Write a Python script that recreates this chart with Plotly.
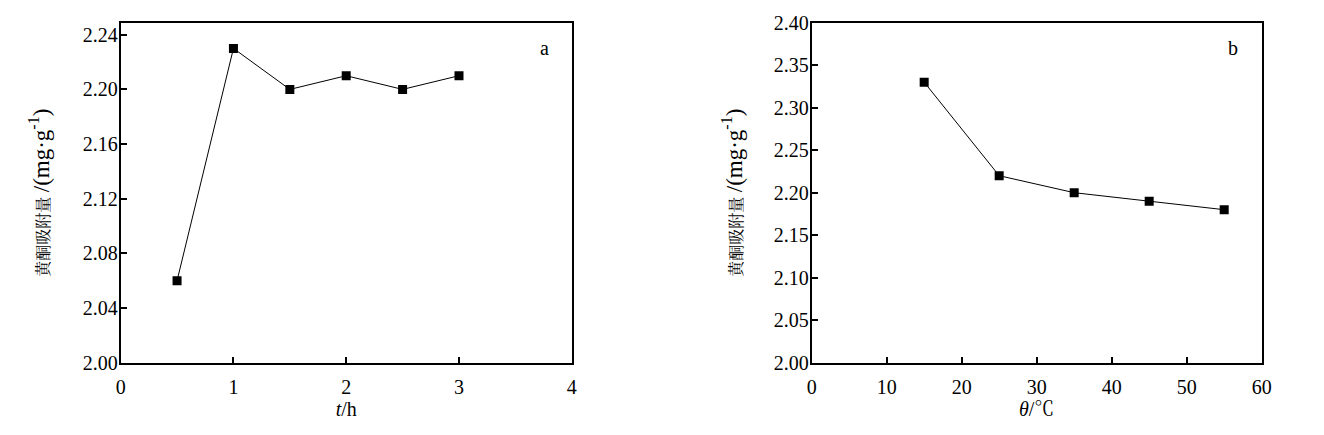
import plotly.graph_objects as go

# Panel a: adsorption time
time_h = [0.5, 1.0, 1.5, 2.0, 2.5, 3.0]
adsorb_a = [2.06, 2.23, 2.20, 2.21, 2.20, 2.21]
# Panel b: temperature
temp_c = [15, 25, 35, 45, 55]
adsorb_b = [2.33, 2.22, 2.20, 2.19, 2.18]

ya_ticks = [2.00, 2.04, 2.08, 2.12, 2.16, 2.20, 2.24]
yb_ticks = [2.00, 2.05, 2.10, 2.15, 2.20, 2.25, 2.30, 2.35, 2.40]
xa_ticks = [0, 1, 2, 3, 4]
xb_ticks = [0, 10, 20, 30, 40, 50, 60]

FONT = "'Liberation Serif', 'Noto Serif CJK SC', 'Noto Sans CJK SC', serif"
ytitle = ("<span style='font-size:16px'>黄酮吸附量</span>"
          "<span style='font-size:23px'>\u2009/(mg·g<sup>-1</sup>)</span>")

fig = go.Figure()
fig.add_trace(go.Scatter(x=time_h, y=adsorb_a, mode="lines+markers",
                         line=dict(color="black", width=1),
                         marker=dict(symbol="square", size=9, color="black"),
                         xaxis="x", yaxis="y", showlegend=False))
fig.add_trace(go.Scatter(x=temp_c, y=adsorb_b, mode="lines+markers",
                         line=dict(color="black", width=1),
                         marker=dict(symbol="square", size=9, color="black"),
                         xaxis="x2", yaxis="y2", showlegend=False))

ax_common = dict(showline=True, linecolor="black", linewidth=2, mirror=True,
                 ticks="inside", ticklen=6, tickwidth=1.5, tickcolor="black",
                 showgrid=False, zeroline=False, automargin=False,
                 tickfont=dict(family=FONT, size=20, color="black"))

ydom = [0.1846, 0.9662]

fig.update_layout(
    width=1324, height=435,
    margin=dict(l=0, r=0, t=0, b=0),
    paper_bgcolor="white", plot_bgcolor="white",
    font=dict(family=FONT, color="black"),
    xaxis=dict(domain=[0.0851, 0.4258], range=[0, 4], tickvals=xa_ticks,
               ticktext=[str(v) for v in xa_ticks], anchor="y", ticklabelstandoff=5,
               title=dict(text="<i>t</i>/h", font=dict(family=FONT, size=20), standoff=5),
               **ax_common),
    yaxis=dict(domain=ydom, range=[2.00, 2.2488], tickvals=ya_ticks,
               ticktext=[f"{v:.2f}" for v in ya_ticks], anchor="x", ticklabelstandoff=-3,
               title=dict(text=ytitle, font=dict(family=FONT, size=20), standoff=28),
               **ax_common),
    xaxis2=dict(domain=[0.6070, 0.9469], range=[0, 60], tickvals=xb_ticks,
                ticktext=[str(v) for v in xb_ticks], anchor="y2", ticklabelstandoff=5,
                title=dict(text="<i>θ</i>/℃", font=dict(family=FONT, size=20), standoff=5),
                **ax_common),
    yaxis2=dict(domain=ydom, range=[2.00, 2.40], tickvals=yb_ticks,
                ticktext=[f"{v:.2f}" for v in yb_ticks], anchor="x2", ticklabelstandoff=-3,
                title=dict(text=ytitle, font=dict(family=FONT, size=20), standoff=26),
                **ax_common),
    annotations=[
        dict(text="a", xref="x domain", yref="y domain", x=0.94, y=0.926,
             xanchor="center", yanchor="middle",
             showarrow=False, font=dict(family=FONT, size=20)),
        dict(text="b", xref="x2 domain", yref="y2 domain", x=0.936, y=0.926,
             xanchor="center", yanchor="middle",
             showarrow=False, font=dict(family=FONT, size=20)),
    ],
)

fig.write_html("out.html")
